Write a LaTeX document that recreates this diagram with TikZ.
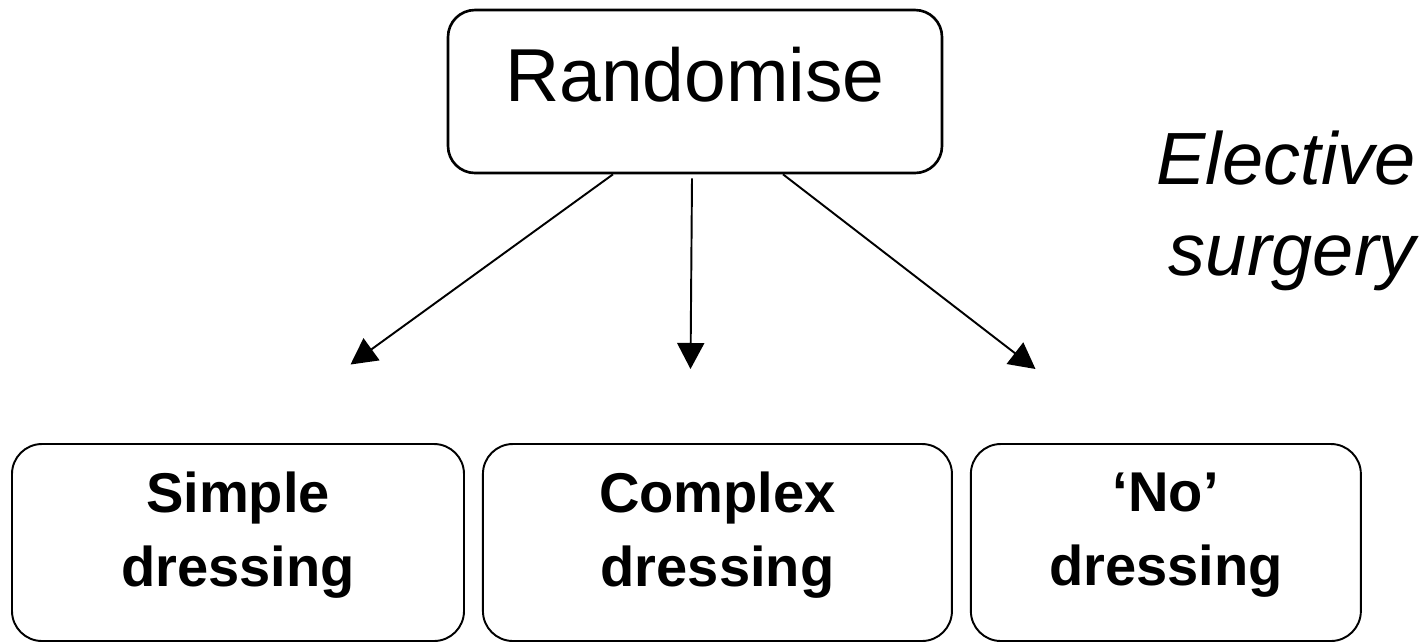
\documentclass[tikz,border=0pt]{standalone}
\usepackage{fontspec}
\setmainfont{Liberation Sans}
\usepackage{tikz}
\usetikzlibrary{positioning,arrows.meta}

\newcommand{\armstrut}{\rule[-0.52cm]{0pt}{0pt}}

\begin{document}
\begin{tikzpicture}[
  >={Triangle[length=0.52cm,width=0.54cm]},
  topbox/.style={draw, line width=1.5pt, rounded corners=0.54cm, minimum width=9.88cm, minimum height=3.26cm, inner sep=0pt, text height=1.08cm, text depth=0.7cm, font=\fontsize{42.7pt}{51pt}\selectfont},
  armbox/.style={draw, line width=1.1pt, rounded corners=0.6cm, minimum height=3.94cm, inner sep=0pt, align=center, font=\fontsize{31.9pt}{42.1pt}\selectfont\bfseries},
  note/.style={inner sep=0pt, align=right, font=\fontsize{42.1pt}{51.8pt}\selectfont\itshape}
]
 \useasboundingbox (0,0) rectangle (28.4,-12.86);
 \node[topbox] (rnd) at (13.9,-1.83) {Randomise};
 \node[note, anchor=north east] (elective) at (28.32,-2.62) {Elective\\surgery};
 \node[armbox, minimum width=9.04cm] (simple) at (4.76,-10.85) {Simple\\dressing\armstrut};
 \node[armbox, minimum width=9.38cm, right=0.34cm of simple] (complex) {Complex\\dressing\armstrut};
 \node[armbox, minimum width=7.8cm, right=0.34cm of complex] (nodress) {‘No’\\dressing\armstrut};
 \coordinate (tipL) at (7.01,-7.29);
 \coordinate (tipM) at (13.81,-7.38);
 \coordinate (tipR) at (20.71,-7.38);
 \path[->, line width=1.1pt]
  ([xshift=-1.64cm]rnd.south) edge (tipL)
  ([xshift=-0.06cm,yshift=-0.08cm]rnd.south) edge (tipM)
  ([xshift=1.76cm]rnd.south) edge (tipR)
 ;
\end{tikzpicture}
\end{document}
